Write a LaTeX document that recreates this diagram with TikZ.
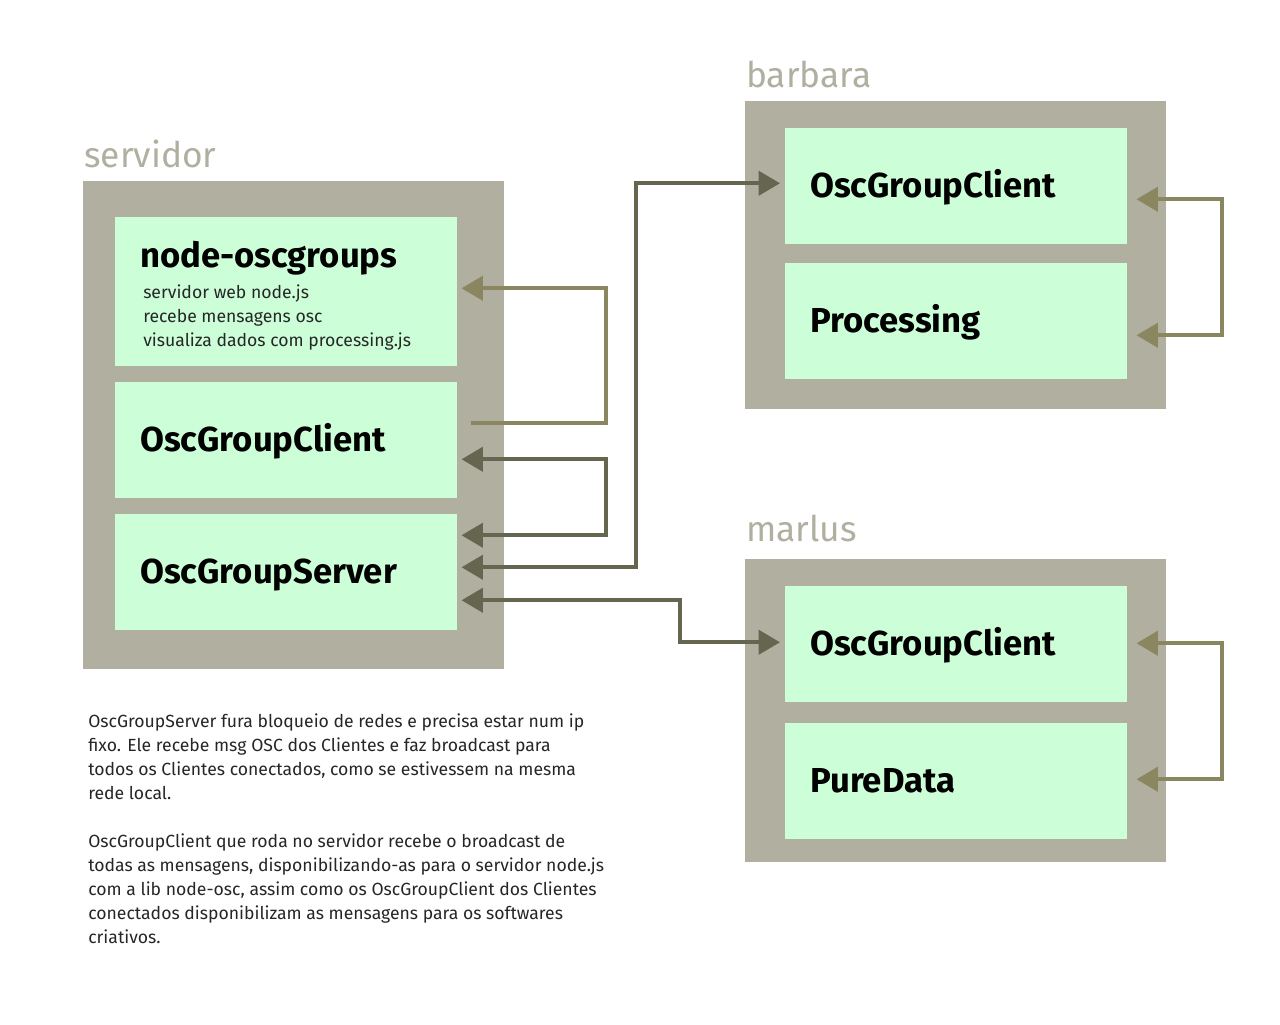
\documentclass[tikz,border=0pt]{standalone}
\usepackage{fontspec}
\setmainfont{Fira Sans}
\usetikzlibrary{arrows.meta}
\definecolor{caixa}{HTML}{B0AFA0}
\definecolor{menta}{HTML}{CCFFD8}
\definecolor{oliva}{HTML}{8A8660}
\definecolor{escuro}{HTML}{66654F}
\begin{document}
\begin{tikzpicture}[x=0.75pt,y=-0.75pt, line join=miter,
	maquina/.style={fill=caixa, anchor=north west, inner sep=0pt, minimum width=315.75pt},
	modulo/.style={fill=menta, anchor=north west, inner sep=0pt, minimum width=256.5pt, minimum height=87pt},
	rotulo/.style={anchor=base west, inner sep=0pt, text=caixa, font=\fontsize{26.5}{30}\selectfont},
	titulo/.style={anchor=base west, inner sep=0pt, font=\fontsize{26}{30}\selectfont\bfseries},
	texto/.style={anchor=base west, inner sep=0pt, align=left, text=black!85, font=\fontsize{13.2}{18}\selectfont}, % base = ultima linha
	ligacao/.style={line width=3pt, {Triangle[length=16pt,width=18pt]}-{Triangle[length=16pt,width=18pt]}}]
	\useasboundingbox (0,0) rectangle (1280,1024);
	\fill[white] (0,0) rectangle (1280,1024);
	% servidor
	\node[rotulo] (lserv) at (84,167) {servidor};
	\node[maquina, minimum height=366pt] (serv) at (83,181) {};
	\node[modulo, minimum height=111.75pt] (ng) at (115,217) {};
	\node[modulo] (sc) at (115,382) {};
	\node[modulo] (ss) at (115,514) {};
	\node[titulo] (tng) at (140,267) {node-oscgroups};
	\node[texto] (dng) at (143,346) {servidor web node.js\\recebe mensagens osc\\visualiza dados com processing.js};
	\node[titulo] (tsc) at (140,451) {OscGroupClient};
	\node[titulo] (tss) at (140,583) {OscGroupServer};
	% barbara
	\node[rotulo] (lbar) at (746,87) {barbara};
	\node[maquina, minimum height=231pt] (bar) at (745,101) {};
	\node[modulo] (bc) at (785,128) {};
	\node[modulo] (bp) at (785,263) {};
	\node[titulo] (tbc) at (810,197) {OscGroupClient};
	\node[titulo] (tbp) at (810,332) {Processing};
	% marlus
	\node[rotulo] (lmar) at (746,541) {marlus};
	\node[maquina, minimum height=227.25pt] (mar) at (745,559) {};
	\node[modulo] (mc) at (785,586) {};
	\node[modulo] (mp) at (785,723) {};
	\node[titulo] (tmc) at (810,655) {OscGroupClient};
	\node[titulo] (tmp) at (810,792) {PureData};
	% legenda
	\node[texto] (leg) at (88,943) {OscGroupServer fura bloqueio de redes e precisa estar num ip\\
		fixo. Ele recebe msg OSC dos Clientes e faz broadcast para\\
		todos os Clientes conectados, como se estivessem na mesma\\
		rede local.\\[18pt]
		OscGroupClient que roda no servidor recebe o broadcast de\\
		todas as mensagens, disponibilizando-as para o servidor node.js\\
		com a lib node-osc, assim como os OscGroupClient dos Clientes\\
		conectados disponibilizam as mensagens para os softwares\\
		criativos.};
	% ligacoes
	\draw[oliva, line width=3pt, -{Triangle[length=16pt,width=18pt]}] ([shift={(13,-17)}]sc.east) -- ++(135,0) |- ([shift={(4,-3.5)}]ng.east);
	\draw[escuro, ligacao] ([shift={(4,19)}]sc.east) -- ++(144,0) |- ([shift={(4,-37)}]ss.east);
	\draw[escuro, ligacao] ([shift={(4,-5)}]ss.east) -- ++(174,0) |- ([shift={(-5,-3)}]bc.west);
	\draw[escuro, ligacao] ([shift={(4,28)}]ss.east) -- ++(218,0) |- ([shift={(-5,-2)}]mc.west);
	\draw[oliva, ligacao] ([shift={(9,13)}]bc.east) -- ++(85,0) |- ([shift={(9,14)}]bp.east);
	\draw[oliva, ligacao] ([shift={(9,-1)}]mc.east) -- ++(85,0) |- ([shift={(9,-2)}]mp.east);
\end{tikzpicture}
\end{document}
